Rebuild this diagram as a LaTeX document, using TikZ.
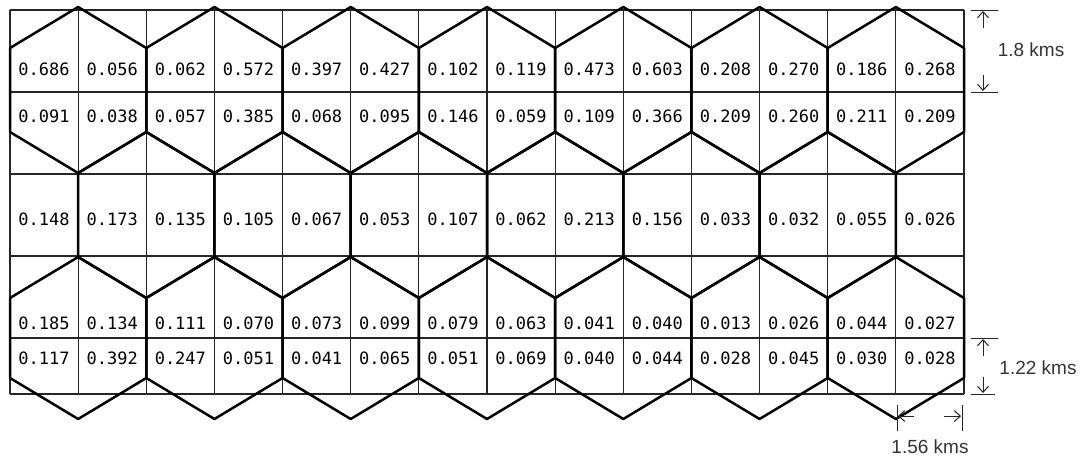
\documentclass[tikz,border=0pt]{standalone}
\usepackage{fontspec}
\setmainfont{Liberation Sans}
\newfontfamily\cellfont{DejaVu Sans Mono}
\usetikzlibrary{arrows.meta}
\begin{document}
\begin{tikzpicture}[x=1pt,y=-1pt,
  hexline/.style={line width=2.5pt, line join=round},
  gridline/.style={line width=1.2pt, black!85},
  celltext/.style={font=\cellfont\fontsize{17}{20}\selectfont, inner sep=0pt},
  dimtick/.style={line width=1pt, black!85},
  dimarrow/.style={line width=1pt, black!85, -{Straight Barb[length=6pt,width=11pt]}},
  dimlabel/.style={font=\fontsize{19}{23}\selectfont, text=black!80, inner sep=0pt}]
\useasboundingbox (0,0) rectangle (1092,459);
\pgfmathsetmacro\cw{954/14}
% grid
\foreach \i in {0,...,14} \draw[gridline] ({10+\i*\cw},10) -- ({10+\i*\cw},394);
\foreach \yy in {10,92,174,256,338,394} \draw[gridline] (10,\yy) -- (964,\yy);
% hexagons
\def\drawhex#1#2#3#4{%
  \draw[hexline] ({#1},{#2-#3}) -- ({#1+\cw},{#2-#4}) -- ({#1+\cw},{#2+#4})
    -- ({#1},{#2+#3}) -- ({#1-\cw},{#2+#4}) -- ({#1-\cw},{#2-#4}) -- cycle;}
\foreach \k in {0,...,6} {\drawhex{10+(2*\k+1)*\cw}{90}{83}{42}}
\foreach \k in {1,...,6} {\drawhex{10+2*\k*\cw}{215}{83}{42}}
\foreach \k in {0,...,6} {\drawhex{10+(2*\k+1)*\cw}{338}{81}{40}}
% cell values
\def\rowy{{69,116,219,323,358}}
\foreach \row [count=\r] in {
 {0.686,0.056,0.062,0.572,0.397,0.427,0.102,0.119,0.473,0.603,0.208,0.270,0.186,0.268},
 {0.091,0.038,0.057,0.385,0.068,0.095,0.146,0.059,0.109,0.366,0.209,0.260,0.211,0.209},
 {0.148,0.173,0.135,0.105,0.067,0.053,0.107,0.062,0.213,0.156,0.033,0.032,0.055,0.026},
 {0.185,0.134,0.111,0.070,0.073,0.099,0.079,0.063,0.041,0.040,0.013,0.026,0.044,0.027},
 {0.117,0.392,0.247,0.051,0.041,0.065,0.051,0.069,0.040,0.044,0.028,0.045,0.030,0.028}} {
  \pgfmathsetmacro\yy{\rowy[\r-1]}
  \foreach \v [count=\c] in \row {
    \node[celltext] (v-\r-\c) at ({10+(\c-0.5)*\cw},\yy) {\v};
  }
}
% dimension 1.8 kms
\coordinate (a1s) at (983,28); \coordinate (a1e) at (983,11);
\coordinate (a2s) at (983,75); \coordinate (a2e) at (983,91);
\draw[dimtick] (971,10) -- (998,10);
\draw[dimtick] (971,92) -- (998,92);
\draw[dimarrow] (a1s) -- (a1e);
\draw[dimarrow] (a2s) -- (a2e);
\node[dimlabel] (l1) at (1031,50) {1.8 kms};
% dimension 1.22 kms
\coordinate (b1s) at (983,356); \coordinate (b1e) at (983,339);
\coordinate (b2s) at (983,377); \coordinate (b2e) at (983,393);
\draw[dimtick] (971,338) -- (998,338);
\draw[dimtick] (971,394) -- (995,394);
\draw[dimarrow] (b1s) -- (b1e);
\draw[dimarrow] (b2s) -- (b2e);
\node[dimlabel] (l2) at (1038,368) {1.22 kms};
% dimension 1.56 kms
\coordinate (c1s) at (914,416); \coordinate (c1e) at (898,416);
\coordinate (c2s) at (944,416); \coordinate (c2e) at (961,416);
\draw[dimtick] (897,405) -- (897,431);
\draw[dimtick] (962,405) -- (962,431);
\draw[dimarrow] (c1s) -- (c1e);
\draw[dimarrow] (c2s) -- (c2e);
\node[dimlabel] (l3) at (930,447) {1.56 kms};
\end{tikzpicture}
\end{document}
